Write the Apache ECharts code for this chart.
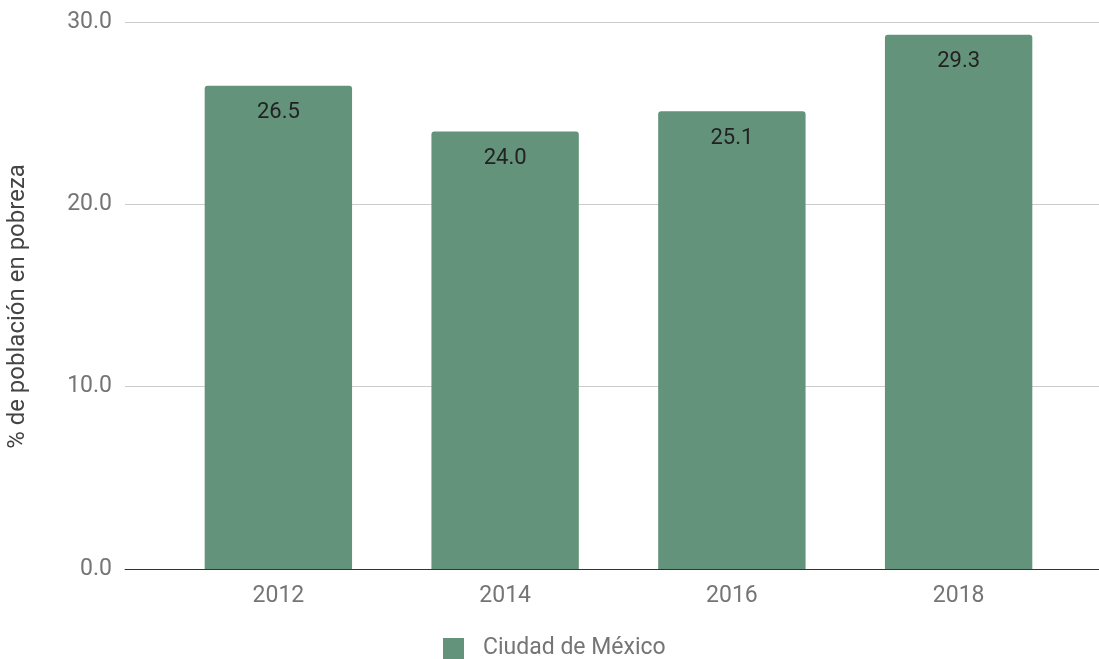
<!DOCTYPE html>
<html>
<head>
<meta charset="utf-8">
<script src="https://cdn.jsdelivr.net/npm/echarts@6/dist/echarts.min.js"></script>
<style>html,body{margin:0;padding:0;background:#fff;}#c{width:1099px;height:659px;}</style>
</head>
<body>
<div id="c"></div>
<script>
const categories = ['2012', '2014', '2016', '2018'];
const values = [26.5, 24.0, 25.1, 29.3];
const seriesName = 'Ciudad de México';
const yAxisName = '% de población en pobreza';

const chart = echarts.init(document.getElementById('c'));
const font = 'Roboto, Arial, sans-serif';
chart.setOption({
  animation: false,
  grid: [
    {left: 125, right: 0, top: 22, bottom: 90, outerBoundsMode: 'none', containLabel: false},
    {left: 165, right: 27, top: 22, bottom: 90, outerBoundsMode: 'none', containLabel: false}
  ],
  legend: {
    left: 443, top: 637, itemWidth: 21, itemHeight: 21, itemGap: 10, padding: 0,
    icon: 'rect',
    textStyle: {color: '#757575', fontSize: 23, fontFamily: font, padding: [0, 0, 0, 14]},
    data: [seriesName]
  },
  xAxis: [
    {gridIndex: 0, type: 'category', data: [''], axisLine: {show: true, lineStyle: {color: '#333', width: 1}},
     axisTick: {show: false}, axisLabel: {show: false}, z: 5},
    {gridIndex: 1, type: 'category', data: categories, axisLine: {show: false}, axisTick: {show: false},
     axisLabel: {color: '#757575', fontSize: 23, fontFamily: font, margin: 16}}
  ],
  yAxis: [
    {gridIndex: 0, type: 'value', min: 0, max: 30, interval: 10,
     name: yAxisName, nameLocation: 'middle', nameGap: 95, nameRotate: 90,
     nameTextStyle: {color: '#444444', fontSize: 24, fontFamily: font, padding: [0, 22, 0, 0]},
     axisLine: {show: false}, axisTick: {show: false},
     axisLabel: {color: '#757575', fontSize: 23, fontFamily: font, margin: 13, formatter: v => v.toFixed(1)},
     splitLine: {lineStyle: {color: '#cccccc', width: 1}}},
    {gridIndex: 1, type: 'value', min: 0, max: 30, interval: 10, show: false, splitLine: {show: false}}
  ],
  series: [{
    name: seriesName, type: 'bar', xAxisIndex: 1, yAxisIndex: 1,
    data: values, barCategoryGap: '35%',
    itemStyle: {color: '#63937a', borderRadius: [3, 3, 0, 0]},
    label: {show: true, position: 'insideTop', distance: 16, color: '#222', fontSize: 22, fontFamily: font,
            formatter: p => p.value.toFixed(1)}
  }]
});
</script>
</body>
</html>
